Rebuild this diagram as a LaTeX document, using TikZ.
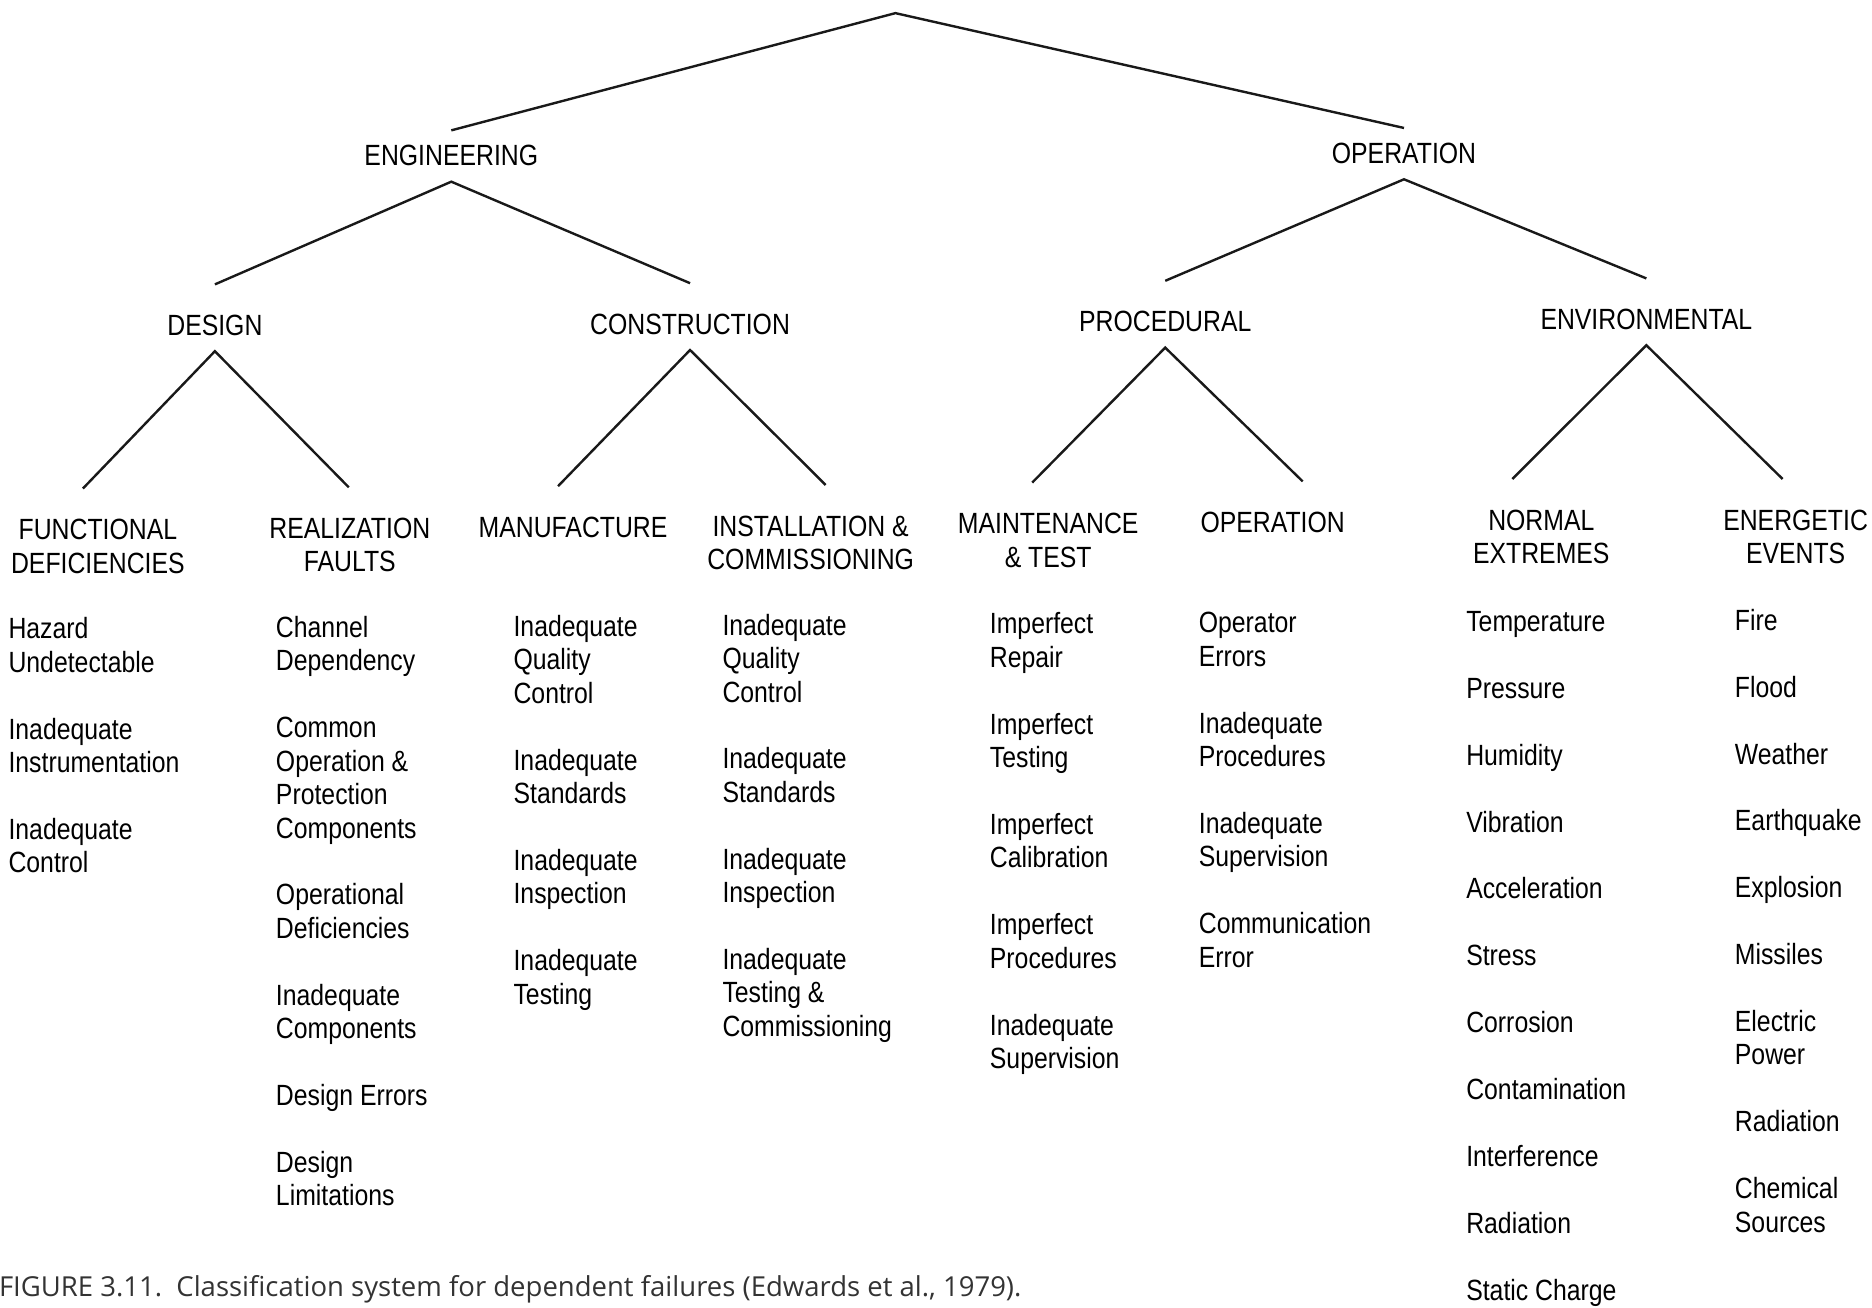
\documentclass[tikz,border=0pt]{standalone}
\usepackage{fontspec}
\usepackage{graphicx}
\setmainfont{Liberation Sans}
\newfontfamily\capfont{Open Sans}

\begin{document}
\begin{tikzpicture}[x=1.194pt,y=-1.194pt,
		every node/.style={inner sep=0pt,anchor=base,text=black,font=\fontsize{24.8}{28.33}\selectfont},
		branch/.style={draw=black!90,line width=2.4pt}]
		\def\cathead#1{\scalebox{1}[1.18]{\begin{tabular}[t]{@{}c@{}}#1\end{tabular}}}
		\def\catitems#1{\scalebox{1}[1.18]{\begin{tabular}[t]{@{}l@{}}#1\end{tabular}}}
		\useasboundingbox (0,0) rectangle (1568,1095);
		% tree
		\coordinate (apex) at (750,11);
		\node (eng) at (378,139) {\cathead{ENGINEERING}};
		\node (oper) at (1176,137) {\cathead{OPERATION}};
		\node (design) at (180,281) {\cathead{DESIGN}};
		\node (constr) at (578,280) {\cathead{CONSTRUCTION}};
		\node (proc) at (976,278) {\cathead{PROCEDURAL}};
		\node (env) at (1379,276) {\cathead{ENVIRONMENTAL}};
		\node (fd) at (82,452) {\cathead{FUNCTIONAL\\DEFICIENCIES}};
		\node (rf) at (293,451) {\cathead{REALIZATION\\FAULTS}};
		\node (man) at (480,450) {\cathead{MANUFACTURE}};
		\node (inst) at (679,449) {\cathead{INSTALLATION \&\\COMMISSIONING}};
		\node (mt) at (878,447) {\cathead{MAINTENANCE\\\& TEST}};
		\node (op) at (1066,446) {\cathead{OPERATION}};
		\node (ne) at (1291,444) {\cathead{NORMAL\\EXTREMES}};
		\node (ee) at (1504,444) {\cathead{ENERGETIC\\EVENTS}};
		\draw[branch] ([yshift=12pt]eng.north) -- (apex) -- ([yshift=12pt]oper.north);
		\draw[branch] ([yshift=27.5pt]design.north) -- ([yshift=-5.5pt]eng.south) -- ([yshift=27.5pt]constr.north);
		\draw[branch] ([yshift=27.5pt]proc.north) -- ([yshift=-5.5pt]oper.south) -- ([yshift=27.5pt]env.north);
		\draw[branch] ([xshift=-15pt,yshift=27.5pt]fd.north) -- ([yshift=-5.5pt]design.south) -- ([xshift=-1pt,yshift=27.5pt]rf.north);
		\draw[branch] ([xshift=-15pt,yshift=27.5pt]man.north) -- ([yshift=-5.5pt]constr.south) -- ([xshift=15pt,yshift=27.5pt]inst.north);
		\draw[branch] ([xshift=-16pt,yshift=27.5pt]mt.north) -- ([yshift=-5.5pt]proc.south) -- ([xshift=30pt,yshift=27.5pt]op.north);
		\draw[branch] ([xshift=-29pt,yshift=27.5pt]ne.north) -- ([yshift=-5.5pt]env.south) -- ([xshift=-13pt,yshift=27.5pt]ee.north);
		% causes
		\node[anchor=base west] (fdlist) at (7,535) {\catitems{Hazard\\Undetectable\\ \\Inadequate\\Instrumentation\\ \\Inadequate\\Control}};
		\node[anchor=base west] (rflist) at (231,534) {\catitems{Channel\\Dependency\\ \\Common\\Operation \&\\Protection\\Components\\ \\Operational\\Deficiencies\\ \\Inadequate\\Components\\ \\Design Errors\\ \\Design\\Limitations}};
		\node[anchor=base west] (manlist) at (430,533) {\catitems{Inadequate\\Quality\\Control\\ \\Inadequate\\Standards\\ \\Inadequate\\Inspection\\ \\Inadequate\\Testing}};
		\node[anchor=base west] (instlist) at (605,532) {\catitems{Inadequate\\Quality\\Control\\ \\Inadequate\\Standards\\ \\Inadequate\\Inspection\\ \\Inadequate\\Testing \&\\Commissioning}};
		\node[anchor=base west] (mtlist) at (829,531) {\catitems{Imperfect\\Repair\\ \\Imperfect\\Testing\\ \\Imperfect\\Calibration\\ \\Imperfect\\Procedures\\ \\Inadequate\\Supervision}};
		\node[anchor=base west] (oplist) at (1004,530) {\catitems{Operator\\Errors\\ \\Inadequate\\Procedures\\ \\Inadequate\\Supervision\\ \\Communication\\Error}};
		\node[anchor=base west] (nelist) at (1228,529) {\catitems{Temperature\\ \\Pressure\\ \\Humidity\\ \\Vibration\\ \\Acceleration\\ \\Stress\\ \\Corrosion\\ \\Contamination\\ \\Interference\\ \\Radiation\\ \\Static Charge}};
		\node[anchor=base west] (eelist) at (1453,528) {\catitems{Fire\\ \\Flood\\ \\Weather\\ \\Earthquake\\ \\Explosion\\ \\Missiles\\ \\Electric\\Power\\ \\Radiation\\ \\Chemical\\Sources}};
		% caption
		\node[anchor=base west,text=black!80,font=\capfont\fontsize{27.5}{32}\selectfont] (caption) at (-1,1086) {FIGURE 3.11.\ \ Classification system for dependent failures (Edwards et al., 1979).};
	\end{tikzpicture}
\end{document}
